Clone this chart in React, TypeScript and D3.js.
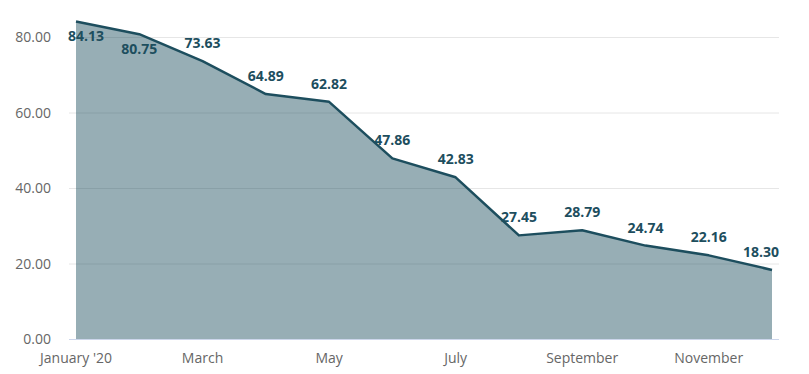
import * as d3 from "d3";
import { useEffect, useRef } from "react";

const months = ["January '20", "February", "March", "April", "May", "June", "July", "August", "September", "October", "November", "December"];
const values = [84.13, 80.75, 73.63, 64.89, 62.82, 47.86, 42.83, 27.45, 28.79, 24.74, 22.16, 18.3];
const yTicks = [0, 20, 40, 60, 80];

export default function App() {
  const ref = useRef<SVGSVGElement | null>(null);
  useEffect(() => {
    if (!ref.current) return;
    const svg = d3.select(ref.current);
    svg.selectAll("*").remove();
    const left = 76;
    const right = 772;
    const x = d3.scaleLinear().domain([0, months.length - 1]).range([left, right]);
    const y = d3.scaleLinear().domain([0, 80]).range([339, 37]);
    const font = "'Open Sans', sans-serif";
    const dark = "#1d4e5e";

    const grid = svg.append("g");
    yTicks.forEach((t) => {
      grid
        .append("line")
        .attr("x1", 69)
        .attr("x2", 779)
        .attr("y1", y(t) + 0.5)
        .attr("y2", y(t) + 0.5)
        .attr("stroke", t === 0 ? "#ccd6eb" : "#e6e6e6")
        .attr("stroke-width", 1);
      grid
        .append("text")
        .attr("x", 51)
        .attr("y", y(t) + 5)
        .attr("text-anchor", "end")
        .attr("font-family", font)
        .attr("font-size", 14)
        .attr("fill", "#666")
        .text(t.toFixed(2));
    });

    const area = d3
      .area<number>()
      .x((_, i) => x(i))
      .y0(y(0))
      .y1((d) => y(d));
    const line = d3
      .line<number>()
      .x((_, i) => x(i))
      .y((d) => y(d));
    svg.append("path").attr("d", area(values) ?? "").attr("fill", dark).attr("fill-opacity", 0.46);
    svg
      .append("path")
      .attr("d", line(values) ?? "")
      .attr("fill", "none")
      .attr("stroke", dark)
      .attr("stroke-width", 2.5)
      .attr("stroke-linejoin", "round");

    // x labels every other month
    months.forEach((m, i) => {
      if (i % 2) return;
      svg
        .append("text")
        .attr("x", x(i))
        .attr("y", 363)
        .attr("text-anchor", "middle")
        .attr("font-family", font)
        .attr("font-size", 14)
        .attr("fill", "#666")
        .text(m);
    });

    // data labels
    const labels = svg.append("g");
    values.forEach((v, i) => {
      const below = i < 2;
      const t = labels
        .append("text")
        .attr("y", y(v) + (below ? 20 : -13))
        .attr("text-anchor", "middle")
        .attr("font-family", font)
        .attr("font-size", 14)
        .attr("font-weight", 700)
        .attr("fill", dark)
        .text(v.toFixed(2));
      const tw = (t.node() as SVGTextElement).getComputedTextLength();
      let cx = x(i);
      cx = Math.max(cx, 68 + tw / 2);
      cx = Math.min(cx, 779 - tw / 2);
      t.attr("x", cx);
    });
  }, []);
  return <svg ref={ref} width={809} height={374} style={{ position: "absolute", left: 0, top: 0 }} />;
}
